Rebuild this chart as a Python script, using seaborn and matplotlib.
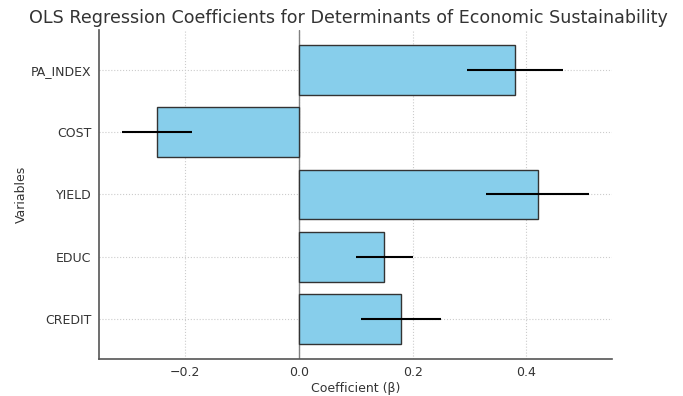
import numpy as np
import pandas as pd
import matplotlib
matplotlib.use('Agg')
import matplotlib.pyplot as plt
import seaborn as sns

# 数据
variables = ['PA_INDEX', 'COST', 'YIELD', 'EDUC', 'CREDIT']
coefficients = [0.38, -0.25, 0.42, 0.15, 0.18]
std_errors = [0.085, 0.062, 0.09, 0.05, 0.07]

df = pd.DataFrame({'Variable': variables, 'Coef': coefficients, 'Err': std_errors})

sns.set_style('white')
plt.rcParams['font.family'] = ['DejaVu Sans']
plt.rcParams['text.color'] = '#333333'
plt.rcParams['axes.labelcolor'] = '#333333'
plt.rcParams['xtick.color'] = '#555555'
plt.rcParams['ytick.color'] = '#555555'

fig = plt.figure(figsize=(6.83, 3.96), dpi=100)
ax = fig.add_axes([0.145, 0.094, 0.751, 0.830])

sns.barplot(data=df, x='Coef', y='Variable', orient='h', color='skyblue',
            saturation=1, edgecolor='#333333', linewidth=1, width=0.8, ax=ax, zorder=2)

# 误差线
ax.errorbar(df['Coef'], np.arange(len(df)), xerr=df['Err'], fmt='none',
            ecolor='black', elinewidth=1.5, capsize=0, zorder=3)

ax.axvline(0, color='gray', linewidth=1, zorder=1)

ax.set_xlim(-0.352, 0.551)
ax.set_ylim(len(df) - 1 + 0.64, -0.64)
ax.set_xticks([-0.2, 0.0, 0.2, 0.4])
ax.grid(True, linestyle=':', linewidth=0.8, color='#cccccc')
ax.set_axisbelow(True)

for s in ['top', 'right']:
    ax.spines[s].set_visible(False)
for s in ['left', 'bottom']:
    ax.spines[s].set_color('#555555')
    ax.spines[s].set_linewidth(1.2)

ax.tick_params(axis='both', length=2.5, width=0.8, pad=3, labelsize=9, labelcolor='#333333')
ax.set_xlabel('Coefficient (β)', fontsize=9, labelpad=2)
ax.set_ylabel('Variables', fontsize=9, labelpad=2)
ax.set_title('OLS Regression Coefficients for Determinants of Economic Sustainability',
             fontsize=12.6, x=0.487, pad=5)

fig.savefig('out.png', dpi=100)
